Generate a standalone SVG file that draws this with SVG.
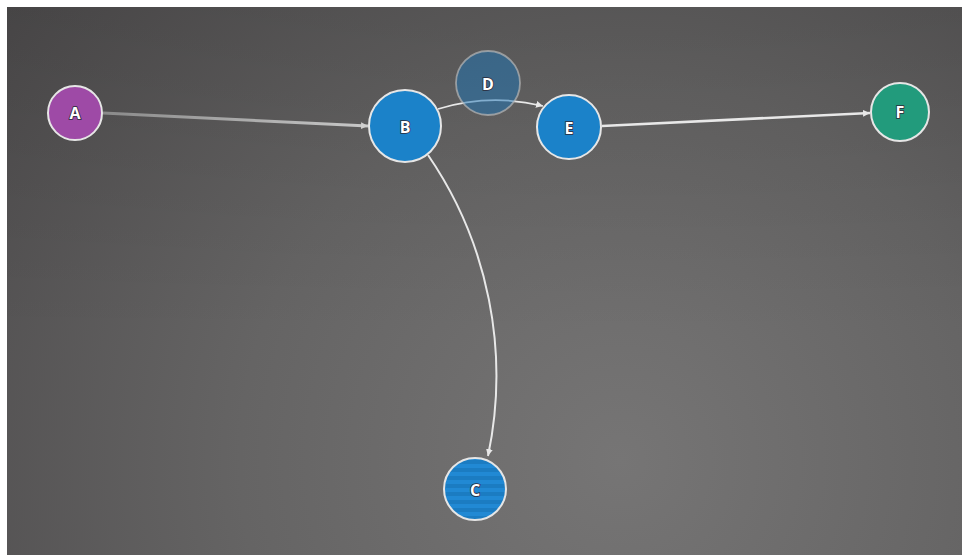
<svg xmlns="http://www.w3.org/2000/svg" width="962" height="555" viewBox="0 0 962 555">
  <defs>
    <radialGradient id="bg" gradientUnits="userSpaceOnUse" cx="620" cy="460" r="760">
      <stop offset="0" stop-color="#767575"/>
      <stop offset="0.5" stop-color="#656464"/>
      <stop offset="1" stop-color="#4e4c4d"/>
    </radialGradient>
    <linearGradient id="topShade" x1="0" y1="0" x2="0" y2="1">
      <stop offset="0" stop-color="#000" stop-opacity="0.1"/>
      <stop offset="0.6" stop-color="#000" stop-opacity="0"/>
    </linearGradient>
    <linearGradient id="fadeAB" gradientUnits="userSpaceOnUse" x1="103" y1="113" x2="366" y2="126">
      <stop offset="0" stop-color="#8a8a8a"/>
      <stop offset="1" stop-color="#c8c8c8"/>
    </linearGradient>
    <pattern id="stripes" patternUnits="userSpaceOnUse" width="8" height="8">
      <rect width="8" height="8" fill="#2189d4"/>
      <rect y="4" width="8" height="4" fill="#1b7cc2"/>
    </pattern>
    <marker id="arrow" markerUnits="userSpaceOnUse" markerWidth="8" markerHeight="7" refX="7" refY="3.5" orient="auto">
      <path d="M0,0 L7,3.5 L0,7 Z" fill="#e8e8e8"/>
    </marker>
    <marker id="arrowDim" markerUnits="userSpaceOnUse" markerWidth="8" markerHeight="7" refX="7" refY="3.5" orient="auto">
      <path d="M0,0 L7,3.5 L0,7 Z" fill="#cfcfcf"/>
    </marker>
  </defs>
  <style>
    .node { stroke: #e6e6e6; stroke-width: 2; }
    .label { font-family: "Open Sans", "Liberation Sans", sans-serif; font-weight: bold; font-size: 16px; fill: #ffffff; text-anchor: middle; dominant-baseline: central; paint-order: stroke; stroke: #2a2a3a; stroke-width: 1.6px; }
    .edge { fill: none; stroke: #e8e8e8; }
  </style>

  <!-- backdrop -->
  <rect x="7" y="7" width="955" height="548" fill="url(#bg)"/>
  <rect x="7" y="7" width="955" height="548" fill="url(#topShade)"/>

  <g id="connectors">
    <line x1="103" y1="113" x2="368" y2="126" style="stroke:url(#fadeAB)" stroke-width="3" marker-end="url(#arrowDim)"/>
    <path class="edge" d="M438,109 A197,197 0 0 1 543,106" stroke-width="1.8" marker-end="url(#arrow)"/>
    <path class="edge" d="M428,155 A390,390 0 0 1 488,456" stroke-width="2" marker-end="url(#arrow)"/>
    <line class="edge" x1="602" y1="126" x2="870" y2="113" stroke-width="2.6" marker-end="url(#arrow)"/>
  </g>

  <g id="node-A">
    <circle class="node" cx="75" cy="113" r="27" fill="#9e4aa6"/>
    <text class="label" x="75" y="113">A</text>
  </g>
  <g id="node-B">
    <circle class="node" cx="405" cy="126" r="36" fill="#1b82c9"/>
    <text class="label" x="405" y="127">B</text>
  </g>
  <g id="node-E">
    <circle class="node" cx="569" cy="127" r="32" fill="#1b82c9"/>
    <text class="label" x="569" y="128">E</text>
  </g>
  <g id="node-F">
    <circle class="node" cx="900" cy="112" r="29" fill="#229b7c"/>
    <text class="label" x="900" y="112">F</text>
  </g>
  <g id="node-C">
    <circle class="node" cx="475" cy="489" r="31" fill="url(#stripes)"/>
    <text class="label" x="475" y="490">C</text>
  </g>
  <g id="node-D">
    <circle cx="488" cy="83" r="32" fill="#1c74b6" fill-opacity="0.5" stroke="#b8b8b8" stroke-opacity="0.7" stroke-width="1.8"/>
    <text class="label" x="488" y="84">D</text>
  </g>
</svg>
